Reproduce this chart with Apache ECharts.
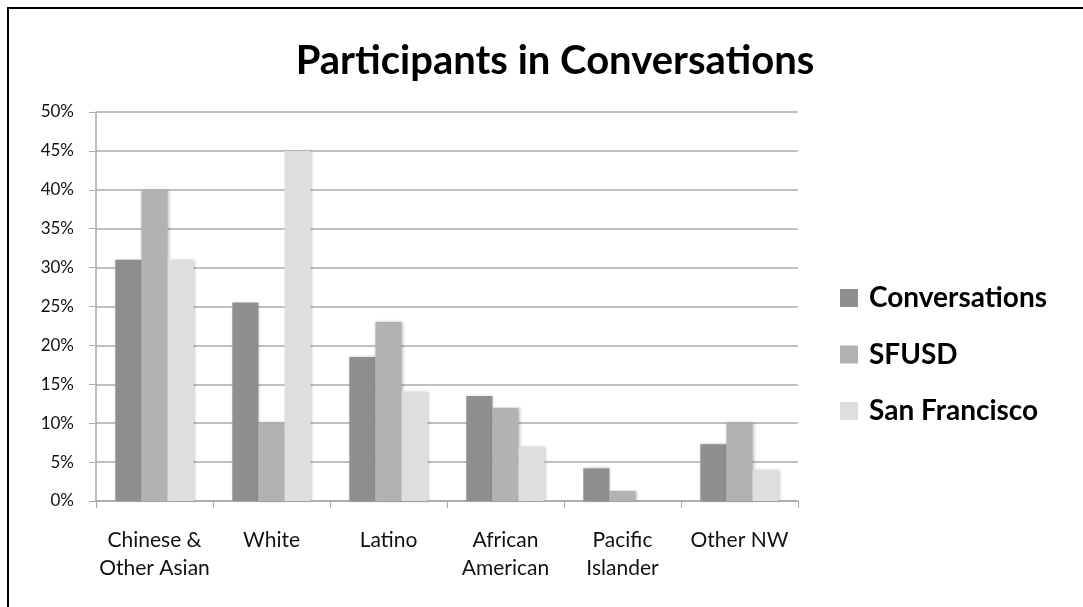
<!DOCTYPE html>
<html>
<head>
<meta charset="utf-8">
<script src="https://cdn.jsdelivr.net/npm/echarts@6/dist/echarts.min.js"></script>
<style>
html,body{margin:0;padding:0;background:#fff;}
#frame{position:absolute;left:7px;top:7px;right:0;bottom:0;border-left:2px solid #000;border-top:2px solid #000;}
#chart{position:absolute;left:0;top:0;width:1083px;height:607px;}
</style>
</head>
<body>
<div id="frame"></div>
<div id="chart"></div>
<script>
const categories = ['Chinese &\nOther Asian', 'White', 'Latino', 'African\nAmerican', 'Pacific\nIslander', 'Other NW'];
const conversations = [31, 25.5, 18.5, 13.5, 4.2, 7.3];
const sfusd = [40, 10, 23, 12, 1.3, 10];
const sanFrancisco = [31, 45, 14, 7, 0, 4];
const seriesNames = ['Conversations', 'SFUSD', 'San Francisco'];
const colors = ['#8f8f8f', '#b2b2b2', '#dedede'];

const font = 'Lato, "Open Sans", sans-serif';
const chart = echarts.init(document.getElementById('chart'), null, {renderer: 'canvas'});
const barStyle = (c) => ({color: c, shadowColor: 'rgba(0,0,0,0.25)', shadowBlur: 3, shadowOffsetX: 1, shadowOffsetY: 0});
chart.setOption({
  animation: false,
  backgroundColor: 'transparent',
  title: {
    text: 'Participants in Conversations',
    left: 550, top: 36, textAlign: 'center',
    textStyle: {fontFamily: font, fontWeight: 'bold', fontSize: 40, color: '#000'}
  },
  legend: {
    orient: 'vertical', left: 835, top: 279,
    itemWidth: 18, itemHeight: 18, itemGap: 28.5,
    icon: 'rect',
    textStyle: {fontFamily: font, fontWeight: 'bold', fontSize: 28, lineHeight: 28, color: '#000', padding: [0, 0, 0, 6]},
    data: seriesNames
  },
  grid: {left: 96, right: 285, top: 112, bottom: 106, containLabel: false},
  xAxis: {
    type: 'category', data: categories,
    axisLine: {lineStyle: {color: '#aaa', width: 1.5}},
    axisTick: {show: true, length: 7, interval: 0, lineStyle: {color: '#aaa'}},
    axisLabel: {fontFamily: font, fontSize: 21, color: '#111', margin: 25, lineHeight: 28, interval: 0, hideOverlap: false}
  },
  yAxis: {
    type: 'value', min: 0, max: 50, interval: 5,
    axisLine: {show: true, lineStyle: {color: '#aaa', width: 1.5}},
    axisTick: {show: true, length: 7, lineStyle: {color: '#aaa'}},
    splitLine: {lineStyle: {color: '#aaa', width: 1.5}},
    axisLabel: {fontFamily: font, fontSize: 17, color: '#111', margin: 22, formatter: '{value}%'}
  },
  series: [
    {name: seriesNames[0], type: 'bar', data: conversations, itemStyle: barStyle(colors[0]), barGap: '0%', barCategoryGap: '33%'},
    {name: seriesNames[1], type: 'bar', data: sfusd, itemStyle: barStyle(colors[1]), barGap: '0%', barCategoryGap: '33%'},
    {name: seriesNames[2], type: 'bar', data: sanFrancisco, itemStyle: barStyle(colors[2]), barGap: '0%', barCategoryGap: '33%'}
  ]
});
</script>
</body>
</html>
